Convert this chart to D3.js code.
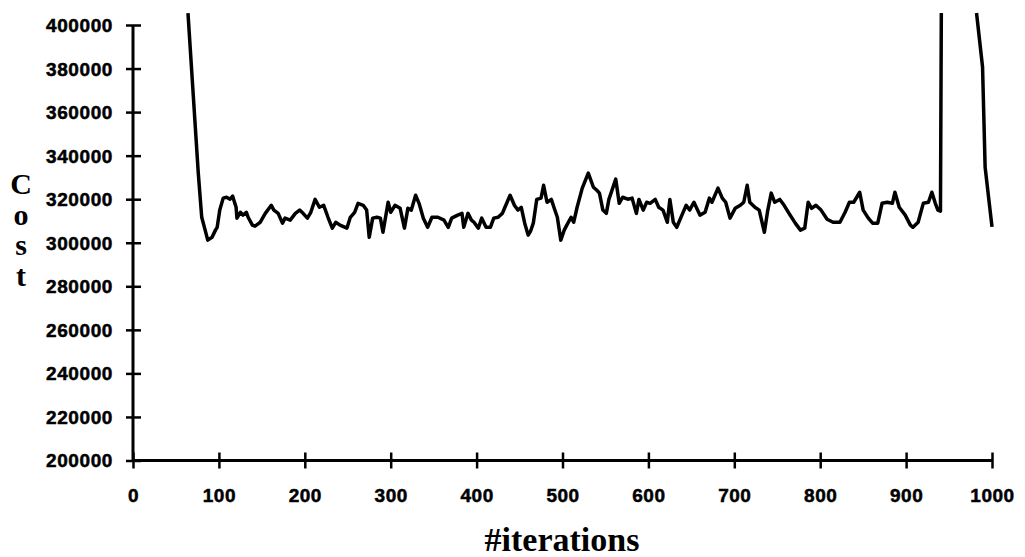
<!DOCTYPE html>
<html>
<head>
<meta charset="utf-8">
<script src="https://cdn.jsdelivr.net/npm/d3@7"></script>
<style>
  body { margin: 0; background: #fff; }
  svg { display: block; }
</style>
</head>
<body>
<div id="chart"></div>
<script>
// values (null = curve runs off the top of the chart)
var iterations = [64, 76, 80, 84, 87, 92, 96, 98, 101, 105, 109, 113, 116, 120, 121, 125, 128, 132, 134, 139,
  142, 148, 154, 161, 164, 169, 174, 177, 183, 189, 194, 198, 203, 207, 212, 217, 222, 227, 232, 236,
  241, 249, 253, 258, 262, 268, 272, 275, 279, 284, 288, 291, 297, 300, 305, 311, 316, 320, 324, 329,
  333, 338, 343, 348, 355, 362, 367, 371, 378, 383, 385, 390, 394, 397, 402, 406, 411, 416, 420, 425,
  430, 433, 439, 444, 448, 452, 456, 460, 463, 466, 470, 475, 478, 482, 487, 490, 494, 498, 502, 505,
  510, 513, 517, 523, 530, 536, 540, 543, 547, 551, 554, 562, 566, 570, 576, 581, 586, 589, 594, 598,
  602, 608, 612, 617, 622, 625, 629, 633, 639, 644, 648, 653, 660, 666, 671, 674, 681, 686, 690, 695,
  701, 707, 711, 715, 718, 724, 729, 735, 739, 743, 747, 753, 758, 765, 771, 777, 782, 786, 790, 795,
  801, 808, 815, 823, 829, 834, 839, 846, 850, 856, 861, 867, 872, 878, 884, 887, 892, 899, 905, 908,
  914, 920, 926, 930, 934, 937, 940, 941, 960, 982, 989, 992, 1000];
var costs = [405500, 332000, 311700, 305800, 301200, 302500, 305800, 307100, 315000, 320500, 320900, 320000, 321400, 316300, 311300, 314000, 312700, 314000, 311700, 308100,
  307600, 309400, 313500, 317200, 315000, 313500, 309000, 311300, 310400, 313500, 315000, 313500, 311300, 314000, 319900, 316300, 317200, 311700, 306700, 309400,
  308100, 306700, 311700, 314000, 318100, 317200, 315000, 302500, 311300, 311700, 311300, 304800, 318600, 314000, 317200, 315800, 306700, 315800, 315000, 321800,
  318100, 311300, 307100, 311700, 311700, 310400, 307100, 311300, 312700, 313500, 307100, 313500, 310400, 309400, 306700, 311300, 307100, 307100, 311300, 311700,
  313500, 316300, 321800, 317200, 315000, 316300, 309000, 303500, 305500, 309000, 319900, 320500, 326400, 318600, 319900, 316300, 311700, 301200, 305800, 308100,
  311700, 309400, 316300, 325100, 332000, 325500, 324100, 322800, 315000, 313500, 319900, 329200, 318100, 320900, 320000, 320500, 313500, 319900, 315000, 318600,
  318100, 319900, 316300, 315000, 309400, 319900, 309400, 307100, 312700, 317200, 315000, 318600, 312700, 314000, 320500, 318600, 325100, 320500, 318600, 311300,
  315800, 317200, 318600, 326400, 318600, 316300, 315000, 304800, 315000, 322800, 318600, 319900, 317200, 312700, 309000, 305800, 306700, 318600, 315800, 317200,
  315000, 310800, 309400, 309400, 314000, 318600, 318600, 323200, 315000, 311300, 309000, 309000, 318100, 318600, 318100, 323200, 316300, 312700, 308100, 307100,
  309400, 318100, 318600, 323200, 318100, 315000, 314500, 405500, null, 405500, 380700, 334700, 307300];

var xTicks = [0, 100, 200, 300, 400, 500, 600, 700, 800, 900, 1000];
var yTicks = [200000, 220000, 240000, 260000, 280000, 300000, 320000, 340000, 360000, 380000, 400000];
var yTitle = 'Cost';
var xTitle = '#iterations';

var w = 1025;
var h = 557;

var data = iterations.map((d, i) => ({ it: d, cost: costs[i] }));

var x = d3.scaleLinear().domain([0, 1000]).range([133, 992]);
var y = d3.scaleLinear().domain([200000, 400000]).range([460.5, 25]);

var svg = d3.select('#chart')
  .append('svg')
    .attr('width', w)
    .attr('height', h);

// y axis, ticks crossing the line
var yAxis = svg.append('g')
    .attr('transform', 'translate(133,0)')
    .call(d3.axisLeft(y).tickValues(yTicks).tickSize(7).tickFormat(d3.format('d')));
yAxis.select('.domain').attr('d', 'M0,' + y(200000) + 'V' + y(400000))
    .style('stroke', '#000').style('stroke-width', 3);
yAxis.selectAll('.tick line').attr('x1', 8).style('stroke', '#000').style('stroke-width', 2.5);
yAxis.selectAll('.tick text')
    .attr('x', -20)
    .attr('dy', '0.34em')
    .style('font-family', '"Liberation Sans", Arial, sans-serif')
    .style('font-weight', 'bold')
    .style('font-size', '19px')
    .style('letter-spacing', '0.6px')
    .style('fill', '#000')
    .style('stroke', '#000')
    .style('stroke-width', 0.5);

// x axis
var xAxis = svg.append('g')
    .attr('transform', 'translate(0,' + y(200000) + ')')
    .call(d3.axisBottom(x).tickValues(xTicks).tickSize(8).tickFormat(d3.format('d')));
xAxis.select('.domain').attr('d', 'M' + x(0) + ',0H' + x(1000))
    .style('stroke', '#000').style('stroke-width', 3);
xAxis.selectAll('.tick line').attr('y1', -8).style('stroke', '#000').style('stroke-width', 2.5);
xAxis.selectAll('.tick text')
    .attr('y', 28)
    .attr('dy', '0.71em')
    .style('font-family', '"Liberation Sans", Arial, sans-serif')
    .style('font-weight', 'bold')
    .style('font-size', '19px')
    .style('letter-spacing', '0.5px')
    .style('fill', '#000')
    .style('stroke', '#000')
    .style('stroke-width', 0.5);

// cost curve
var line = d3.line()
    .defined(d => d.cost != null)
    .x(d => x(d.it))
    .y(d => y(d.cost));

svg.append('path')
    .datum(data)
    .attr('d', line)
    .style('fill', 'none')
    .style('stroke', '#000')
    .style('stroke-width', 3.5)
    .style('stroke-linejoin', 'round');

// titles: y title stacked upright as one text
svg.append('text')
    .attr('x', 21)
    .attr('y', 228)
    .attr('text-anchor', 'middle')
    .style('writing-mode', 'vertical-rl')
    .style('text-orientation', 'upright')
    .style('letter-spacing', '-2.5px')
    .style('font-family', '"Liberation Serif", "Times New Roman", serif')
    .style('font-weight', 'bold')
    .style('font-size', '30px')
    .text(yTitle);

svg.append('text')
    .attr('x', 562)
    .attr('y', 551)
    .attr('text-anchor', 'middle')
    .style('font-family', '"Liberation Serif", "Times New Roman", serif')
    .style('font-weight', 'bold')
    .style('font-size', '34px')
    .text(xTitle);
</script>
</body>
</html>
